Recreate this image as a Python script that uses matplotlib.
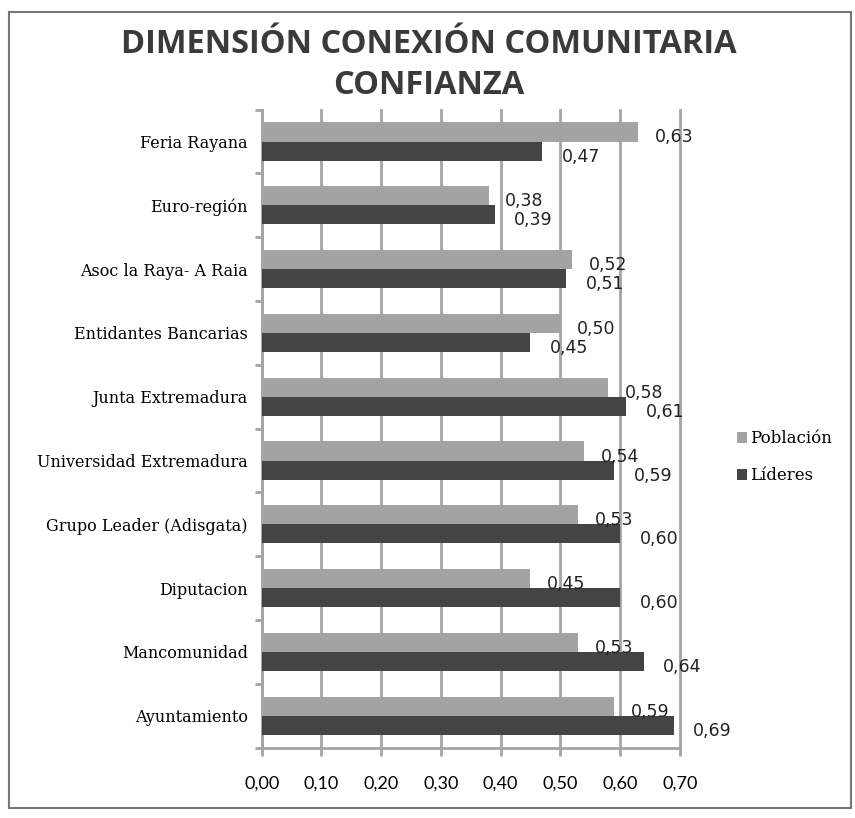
import matplotlib.pyplot as plt
import numpy as np
from matplotlib.patches import Rectangle

# Datos del grafico
categorias = ["Ayuntamiento", "Mancomunidad", "Diputacion", "Grupo Leader (Adisgata)",
              "Universidad Extremadura", "Junta Extremadura", "Entidantes Bancarias",
              "Asoc la Raya- A Raia", "Euro-región", "Feria Rayana"]
poblacion = [0.59, 0.53, 0.45, 0.53, 0.54, 0.58, 0.50, 0.52, 0.38, 0.63]
lideres = [0.69, 0.64, 0.60, 0.60, 0.59, 0.61, 0.45, 0.51, 0.39, 0.47]
ticks_x = [0.0, 0.1, 0.2, 0.3, 0.4, 0.5, 0.6, 0.7]

color_pob = "#a3a3a3"
color_lid = "#444444"

fig = plt.figure(figsize=(8.55, 8.18), dpi=100)
ax = fig.add_axes([0.306, 0.086, 0.489, 0.780])

y = np.arange(len(categorias))
alto = 0.3
ax.barh(y + alto / 2, poblacion, height=alto, color=color_pob, label="Población", zorder=3)
ax.barh(y - alto / 2, lideres, height=alto, color=color_lid, label="Líderes", zorder=3)

# Etiquetas de los valores
for i in range(len(categorias)):
    ax.annotate("{:.2f}".format(poblacion[i]).replace(".", ","), (poblacion[i], y[i] + alto / 2),
                xytext=(12, -4), textcoords="offset points", va="center", ha="left",
                fontsize=12.5, family="DejaVu Sans", color="#222222", zorder=4)
    ax.annotate("{:.2f}".format(lideres[i]).replace(".", ","), (lideres[i], y[i] - alto / 2),
                xytext=(14, -4), textcoords="offset points", va="center", ha="left",
                fontsize=12.5, family="DejaVu Sans", color="#222222", zorder=4)

ax.set_xlim(0, 0.7)
ax.set_ylim(-0.5, len(categorias) - 0.5)
ax.set_xticks(ticks_x)
ax.set_xticklabels(["{:.2f}".format(t).replace(".", ",") for t in ticks_x],
                   family="Lato", fontsize=13)
ax.set_yticks(y)
ax.set_yticklabels(categorias, family="DejaVu Serif", fontsize=11.5)
ax.set_yticks(np.arange(-0.5, len(categorias), 1), minor=True)

ax.grid(axis="x", color="#a5a5a5", linewidth=2, zorder=0)
for linea in ax.get_xgridlines():
    linea.set_clip_on(False)
for lado in ["top", "right"]:
    ax.spines[lado].set_visible(False)
ax.spines["left"].set_color("#a5a5a5")
ax.spines["bottom"].set_color("#a5a5a5")
ax.spines["left"].set_linewidth(2)
ax.spines["bottom"].set_linewidth(2)
ax.tick_params(axis="y", which="major", length=0, pad=10)
ax.tick_params(axis="y", which="minor", length=5, width=2, color="#a5a5a5")
ax.tick_params(axis="x", length=6, width=2, color="#a5a5a5", pad=14)

ax.legend(loc="center left", bbox_to_anchor=(1.1, 0.455), frameon=False,
          prop={"family": "DejaVu Serif", "size": 12}, handlelength=0.6,
          handleheight=0.6, handletextpad=0.2, labelspacing=1.2)

fig.text(0.502, 0.945, "DIMENSIÓN CONEXIÓN COMUNITARIA", ha="center", va="center",
         fontsize=23.5, fontweight="bold", family="Open Sans", color="#3a3a3a")
fig.text(0.502, 0.896, "CONFIANZA", ha="center", va="center",
         fontsize=23.5, fontweight="bold", family="Open Sans", color="#3a3a3a")

# Marco exterior
fig.patches.append(Rectangle((0.01, 0.012), 0.985, 0.973, transform=fig.transFigure,
                             fill=False, edgecolor="#777777", linewidth=1.5))

fig.savefig("out.png", dpi=100)
